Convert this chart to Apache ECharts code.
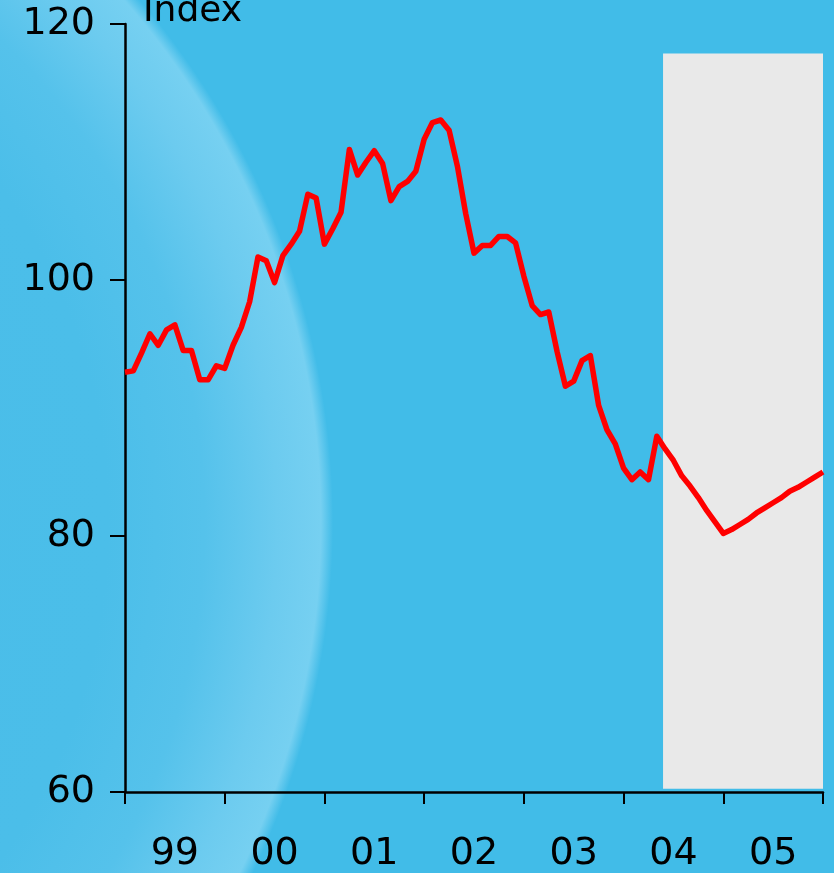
<!DOCTYPE html>
<html>
<head>
<meta charset="utf-8">
<script src="https://cdn.jsdelivr.net/npm/echarts@6/dist/echarts.min.js"></script>
<style>
  html, body { margin: 0; padding: 0; }
  #main {
    width: 834px; height: 873px;
    background-color: #41bce8;
    background-image: radial-gradient(circle 805px at -472px 523px,
      #47bce8 0%, #4bbee9 72%, #55c2eb 84%, #6ccbef 93%, #76d0f1 98.5%, #41bce8 100%);
  }
</style>
</head>
<body>
<div id="main"></div>
<script>
// year labels under the axis
var years = ['99', '00', '01', '02', '03', '04', '05'];
// monthly index, Jan 1999 .. Jan 2006 (last part is the projection)
var values = [
  92.8, 92.9, 94.3, 95.8, 94.9, 96.1, 96.5, 94.5, 94.5, 92.2, 92.2, 93.3,
  93.1, 94.9, 96.3, 98.3, 101.8, 101.5, 99.8, 101.9, 102.8, 103.8, 106.7, 106.4,
  102.8, 104.0, 105.3, 110.2, 108.2, 109.2, 110.1, 109.1, 106.2, 107.3, 107.7, 108.5,
  111.0, 112.3, 112.5, 111.7, 108.9, 105.2, 102.1, 102.7, 102.7, 103.4, 103.4, 102.9,
  100.3, 98.0, 97.3, 97.5, 94.4, 91.7, 92.1, 93.7, 94.1, 90.2, 88.3, 87.2,
  85.3, 84.4, 85.0, 84.4, 87.8, 86.8, 85.9, 84.7, 83.9, 83.0, 82.0, 81.1,
  80.2, 80.5, 80.9, 81.3, 81.8, 82.2, 82.6, 83.0, 83.5, 83.8, 84.2, 84.6,
  85.0
];
// projection shading (months from Jan 1999, index units)
var shadeX = [64.75, 84];
var shadeY = [60.25, 117.7];
var yTicks = [60, 80, 100, 120];

var chart = echarts.init(document.getElementById('main'), null, { renderer: 'canvas' });

var pts = [];
for (var i = 0; i < values.length; i++) {
  pts.push([i, values[i]]);
}

var font = 'DejaVu Sans';
var option = {
  backgroundColor: 'transparent',
  animation: false,
  title: {
    text: 'Index',
    left: 143,
    top: -6,
    padding: 0,
    textStyle: { fontFamily: font, fontSize: 36, fontWeight: 'normal', color: '#000' }
  },
  grid: { left: 125, right: 11, top: 24, bottom: 81 },
  xAxis: [
    {
      type: 'value',
      min: 0,
      max: values.length - 1,
      show: false
    },
    {
      type: 'category',
      position: 'bottom',
      data: years,
      boundaryGap: true,
      axisLine: { show: true, lineStyle: { color: '#000', width: 2.5 } },
      axisTick: { show: true, interval: 0, alignWithLabel: false, length: 12, lineStyle: { color: '#000', width: 2 } },
      axisLabel: { margin: 43, fontFamily: font, fontSize: 38, color: '#000' },
      splitLine: { show: false }
    }
  ],
  yAxis: {
    type: 'value',
    min: yTicks[0],
    max: yTicks[yTicks.length - 1],
    interval: 20,
    axisLine: { show: true, lineStyle: { color: '#000', width: 2.5 } },
    axisTick: { show: true, length: 15, lineStyle: { color: '#000', width: 2 } },
    axisLabel: { margin: 30, fontFamily: font, fontSize: 38, color: '#000' },
    splitLine: { show: false }
  },
  series: [{
    type: 'line',
    xAxisIndex: 0,
    data: pts,
    showSymbol: false,
    lineStyle: { color: '#ff0000', width: 5.5, join: 'round' },
    z: 5,
    markArea: {
      silent: true,
      itemStyle: { color: '#e9e9e9', opacity: 1 },
      data: [[
        { xAxis: shadeX[0], yAxis: shadeY[0] },
        { xAxis: shadeX[1], yAxis: shadeY[1] }
      ]]
    }
  }]
};
chart.setOption(option);
</script>
</body>
</html>
